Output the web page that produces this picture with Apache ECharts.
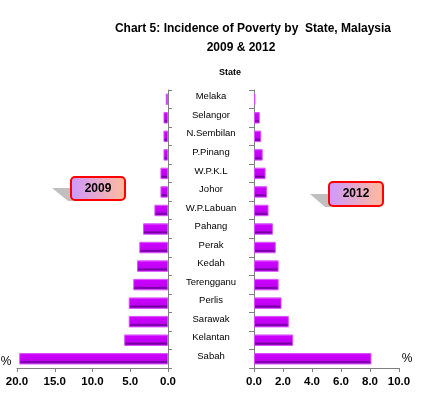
<!DOCTYPE html>
<html><head><meta charset="utf-8">
<script src="https://cdn.jsdelivr.net/npm/echarts@6/dist/echarts.min.js"></script>
<style>html,body{margin:0;padding:0;background:#fff}#c{width:421px;height:399px}</style>
</head><body><div id="c"></div>
<script>
const states = ['Melaka','Selangor','N.Sembilan','P.Pinang','W.P.K.L','Johor','W.P.Labuan','Pahang','Perak','Kedah','Terengganu','Perlis','Sarawak','Kelantan','Sabah'];
const values2009 = [0.3,0.6,0.6,0.6,1.0,1.0,1.8,3.3,3.8,4.1,4.6,5.2,5.2,5.8,19.7];
const values2012 = [0.1,0.4,0.5,0.6,0.8,0.9,1.0,1.3,1.5,1.7,1.7,1.9,2.4,2.7,8.1];
const ticks2009 = [0,5,10,15,20];
const ticks2012 = [0,2,4,6,8,10];

const F = 'Liberation Sans, Arial, sans-serif';
const barColor = {type:'linear',x:0,y:0,x2:0,y2:1,colorStops:[
  {offset:0,color:'#e07aff'},{offset:0.15,color:'#cc00ff'},{offset:0.65,color:'#c000f2'},
  {offset:0.78,color:'#6d0099'},{offset:0.9,color:'#9a00cc'},{offset:1,color:'#d866ff'}]};
const axisGray = {lineStyle:{color:'#808080',width:1}};
const xLab = {fontFamily:F,fontWeight:'bold',fontSize:11.5,color:'#000',margin:8,formatter:v=>Number(v).toFixed(1)};

const chart = echarts.init(document.getElementById('c'),null,{renderer:'canvas'});
chart.setOption({
  animation:false,
  backgroundColor:'#fff',
  title:[
    {text:'Chart 5: Incidence of Poverty by  State, Malaysia',left:248,top:18,textAlign:'center',
     textStyle:{fontFamily:F,fontWeight:'bold',fontSize:12,color:'#000'}},
    {text:'2009 & 2012',left:236,top:37,textAlign:'center',
     textStyle:{fontFamily:F,fontWeight:'bold',fontSize:12,color:'#000'}},
    {text:'State',left:225,top:63,textAlign:'center',
     textStyle:{fontFamily:F,fontWeight:'bold',fontSize:9,color:'#000'}}
  ],
  grid:[
    {left:17,right:253,top:90,bottom:31,containLabel:false},
    {left:254,right:22,top:90,bottom:31,containLabel:false}
  ],
  xAxis:[
    {gridIndex:0,type:'value',inverse:true,min:ticks2009[0],max:ticks2009[ticks2009.length-1],interval:5,
     axisLine:{show:true,...axisGray},axisTick:{show:true,length:4,...axisGray},splitLine:{show:false},axisLabel:xLab},
    {gridIndex:1,type:'value',min:ticks2012[0],max:ticks2012[ticks2012.length-1],interval:2,
     axisLine:{show:true,...axisGray},axisTick:{show:true,length:4,...axisGray},splitLine:{show:false},axisLabel:xLab}
  ],
  yAxis:[
    {gridIndex:0,type:'category',data:states,inverse:true,position:'right',
     axisLine:{show:true,...axisGray},axisTick:{show:true,length:4,...axisGray},
     axisLabel:{align:'center',margin:43,fontFamily:F,fontSize:9.5,color:'#000',verticalAlign:'bottom',lineHeight:5}},
    {gridIndex:1,type:'category',data:states,inverse:true,position:'left',
     axisLine:{show:true,...axisGray},axisTick:{show:true,length:5,...axisGray},axisLabel:{show:false}}
  ],
  series:[
    {name:'2009',type:'bar',xAxisIndex:0,yAxisIndex:0,data:values2009,barWidth:'62%',
     itemStyle:{color:barColor,borderColor:'#d94dff',borderWidth:1}},
    {name:'2012',type:'bar',xAxisIndex:1,yAxisIndex:1,data:values2012,barWidth:'62%',
     itemStyle:{color:barColor,borderColor:'#d94dff',borderWidth:1}}
  ],
  graphic:[
    {type:'polygon',shape:{points:[[52,188],[74,188],[74,201],[68,201]]},style:{fill:'#c0c0c0'}},
    {type:'rect',shape:{x:71,y:177,width:54,height:23,r:4},
     style:{stroke:'#ff0000',lineWidth:2,fill:{type:'linear',x:0,y:0,x2:1,y2:0,colorStops:[{offset:0,color:'#cc99ff'},{offset:1,color:'#ffbb99'}]}}},
    {type:'text',x:98,y:189,style:{text:'2009',font:'bold 12px '+F,fill:'#000',align:'center',verticalAlign:'middle'}},
    {type:'polygon',shape:{points:[[310,194],[331,194],[331,207],[325,207]]},style:{fill:'#c0c0c0'}},
    {type:'rect',shape:{x:329,y:182,width:54,height:24,r:4},
     style:{stroke:'#ff0000',lineWidth:2,fill:{type:'linear',x:0,y:0,x2:1,y2:0,colorStops:[{offset:0,color:'#cc99ff'},{offset:1,color:'#ffbb99'}]}}},
    {type:'text',x:356,y:194,style:{text:'2012',font:'bold 12px '+F,fill:'#000',align:'center',verticalAlign:'middle'}},
    {type:'text',x:6,y:362,style:{text:'%',font:'12px '+F,fill:'#000',align:'center',verticalAlign:'middle'}},
    {type:'text',x:407,y:359,style:{text:'%',font:'12px '+F,fill:'#000',align:'center',verticalAlign:'middle'}}
  ]
});
</script></body></html>
